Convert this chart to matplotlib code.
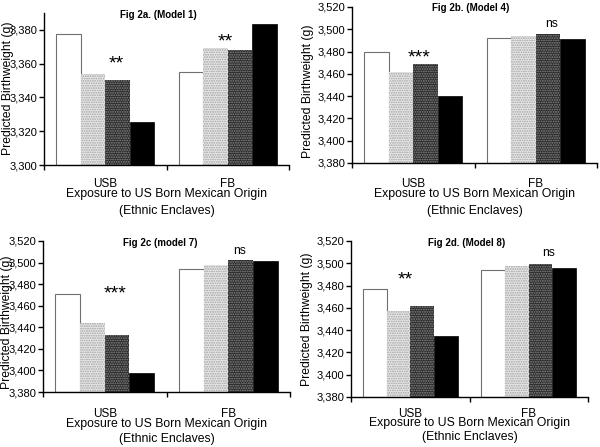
import numpy as np
import matplotlib
matplotlib.use('Agg')
import matplotlib.pyplot as plt
from matplotlib.ticker import StrMethodFormatter

plt.rcParams['font.family'] = ['Liberation Sans', 'DejaVu Sans']
plt.rcParams['hatch.linewidth'] = 0.9

# 数据
groups = ['USB', 'FB']
titles = ['Fig 2a. (Model 1)', 'Fig 2b. (Model 4)', 'Fig 2c (model 7)', 'Fig 2d. (Model 8)']
# 每个面板: [USB 四个柱, FB 四个柱]
model1 = [[3377.6, 3354.0, 3350.5, 3325.3], [3355.0, 3369.0, 3368.0, 3383.5]]
model4 = [[3480.0, 3461.5, 3468.5, 3440.0], [3492.0, 3494.0, 3495.5, 3491.5]]
model7 = [[3471.0, 3444.0, 3432.5, 3397.5], [3493.8, 3497.8, 3502.0, 3501.5]]
model8 = [[3476.5, 3457.0, 3461.5, 3434.5], [3493.6, 3497.5, 3499.8, 3495.4]]
ylims = [(3300, 3390), (3380, 3520), (3380, 3520), (3380, 3520)]
yticks = [np.arange(3300, 3381, 20), np.arange(3380, 3521, 20),
          np.arange(3380, 3521, 20), np.arange(3380, 3521, 20)]
# 显著性标注: (文本, x, y)
marks = [
    [('**', 0.09, 3360.0), ('**', 0.98, 3373.0)],
    [('***', 0.05, 3474.6), ('ns', 1.13, 3504.4)],
    [('***', 0.08, 3470.8), ('ns', 1.09, 3510.5)],
    [('**', -0.04, 3485.0), ('ns', 1.17, 3509.5)],
]
data = [model1, model4, model7, model8]

W, H = 600, 447
# 各面板坐标轴位置 (像素: left, top, right, bottom)
boxes = [(44, 13, 289, 165), (352, 7, 597, 163), (43, 241, 290, 392), (351, 241, 588, 397)]
ylab_pos = [(8.5, 88), (308, 91), (7, 322), (307, 319)]
title_pos = [(158, 15), (471, 8), (160, 243), (467, 243)]
# 组名 pad (pt), 横轴标题中心距轴线 (像素), 行距
grp_pad = [9.5, 11, 11.5, 8]
xlab_off = [37.5, 39.5, 39.5, 33]
xlab_ls = [1.55, 1.62, 1.38, 1.28]

# 柱子样式: 白, 浅点, 深点, 黑
styles = [
    dict(facecolor='white', edgecolor='#707070', linewidth=0.8, hatch=None),
    dict(facecolor='#ebebeb', edgecolor='#a0a0a0', linewidth=0, hatch='.......'),
    dict(facecolor='#262626', edgecolor='#8a8a8a', linewidth=0, hatch='.......'),
    dict(facecolor='black', edgecolor='black', linewidth=0.5, hatch=None),
]

fig = plt.figure(figsize=(W / 100, H / 100), dpi=100)
bw = 0.2
x = np.arange(len(groups))

for i in range(4):
    l, t, r, b = boxes[i]
    ax = fig.add_axes([l / W, 1 - b / H, (r - l) / W, (b - t) / H])
    vals = np.array(data[i])
    for k in range(4):
        ax.bar(x - 0.3 + k * bw, vals[:, k] - ylims[i][0], bw, bottom=ylims[i][0],
               **styles[k])
    ax.set_xlim(-0.5, 1.5)
    ax.set_ylim(*ylims[i])
    ax.set_yticks(yticks[i])
    ax.yaxis.set_major_formatter(StrMethodFormatter('{x:,.0f}'))
    ax.set_xticks([-0.5, 0.5, 1.5])
    ax.set_xticklabels([])
    ax.set_xticks(x, minor=True)
    ax.set_xticklabels(groups, minor=True, fontsize=8.5)
    ax.tick_params(axis='x', which='minor', length=0, pad=grp_pad[i])
    ax.tick_params(axis='both', which='major', direction='out', length=3.5,
                   width=1.0, labelsize=8, pad=1.5)
    for s in ['top', 'right']:
        ax.spines[s].set_visible(False)
    for s in ['left', 'bottom']:
        ax.spines[s].set_linewidth(1.0)
    ax.set_xlabel('Exposure to US Born Mexican Origin\n(Ethnic Enclaves)',
                  fontsize=8.8, linespacing=xlab_ls[i], va='center')
    ax.xaxis.set_label_coords(0.5, -xlab_off[i] / (b - t))
    for txt, mx, my in marks[i]:
        if txt == 'ns':
            ax.text(mx, my, txt, ha='center', va='center', fontsize=8.7)
        else:
            ax.text(mx, my, txt, ha='center', va='center', fontsize=14)
    fig.text(ylab_pos[i][0] / W, 1 - ylab_pos[i][1] / H, 'Predicted Birthweight (g)',
             rotation=90, ha='center', va='center', fontsize=8.7)
    fig.text(title_pos[i][0] / W, 1 - title_pos[i][1] / H, titles[i],
             ha='center', va='center', fontsize=7, fontweight='bold')

fig.savefig('out.png', dpi=100)
